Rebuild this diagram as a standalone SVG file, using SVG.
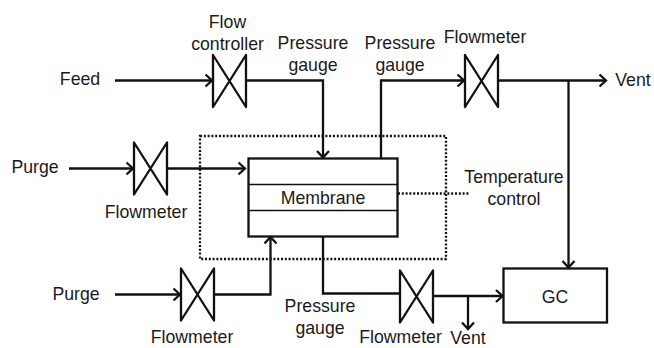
<svg xmlns="http://www.w3.org/2000/svg" width="654" height="348" viewBox="0 0 654 348">
<style>
text{font-family:"Liberation Sans",Arial,sans-serif;font-size:17.7px;fill:#1a1a1a;text-anchor:middle}
.c{fill:none;stroke:#111;stroke-width:2.3;stroke-linejoin:miter}
.v{fill:none;stroke:#111;stroke-width:2.3;stroke-linejoin:round}
.d{fill:none;stroke:#111;stroke-width:2.3;stroke-dasharray:2 1.8}
.t{fill:none;stroke:#111;stroke-width:1.4}
</style>
<defs>
<marker id="a" markerUnits="userSpaceOnUse" markerWidth="14" markerHeight="16" refX="10.5" refY="8" orient="auto" overflow="visible">
<path d="M4,2 L10.5,8 L4,14" fill="none" stroke="#111" stroke-width="2.3"/>
</marker>
<path id="valve" class="v" d="M0,0 L33,52 L33,0 L0,52 Z"/>
</defs>
<rect x="200" y="136" width="246" height="123" class="d"/>
<g id="connectors">
<path class="c" marker-end="url(#a)" d="M115,80.5 H212"/>
<path class="c" marker-end="url(#a)" d="M246,80.5 H323 V157.500"/>
<path class="c" marker-end="url(#a)" d="M381,158 V80.500 H464"/>
<path class="c" marker-end="url(#a)" d="M498,80.500 H606"/>
<path class="c" marker-end="url(#a)" d="M568.500,80.500 V267.500"/>
<path class="c" marker-end="url(#a)" d="M69,168.500 H133"/>
<path class="c" marker-end="url(#a)" d="M167,168.500 H245"/>
<path class="c" marker-end="url(#a)" d="M115,294.500 H180"/>
<path class="c" marker-end="url(#a)" d="M214,294.500 H270.500 V237"/>
<path class="c" d="M323,236 V293.500 H400"/>
<path class="c" marker-end="url(#a)" d="M433,296 H502.500"/>
<path class="c" marker-end="url(#a)" d="M468,296 V329"/>
<path class="d" d="M398,193.500 H469"/>
</g>
<g id="membrane">
<rect class="c" x="248.500" y="158.500" width="149" height="78"/>
<path class="t" d="M248.500,184.500 H397.500 M248.500,210.500 H397.500"/>
<text x="323" y="203.500">Membrane</text>
</g>
<g id="gc">
<rect class="c" x="503.500" y="268.500" width="103.500" height="54"/>
<text x="555" y="302.500">GC</text>
</g>
<g id="valve-controller"><use href="#valve" x="213" y="55"/><text x="227.500" y="27.500">Flow</text><text x="227.500" y="50">controller</text></g>
<g id="valve-vent"><use href="#valve" x="465" y="55"/><text x="485" y="42.500">Flowmeter</text></g>
<g id="valve-purge1"><use href="#valve" x="134" y="142.500"/><text x="146" y="217.500">Flowmeter</text></g>
<g id="valve-purge2"><use href="#valve" x="181" y="268.500"/><text x="192" y="343">Flowmeter</text></g>
<g id="valve-retentate"><use href="#valve" x="400" y="270.500"/><text x="400.500" y="343">Flowmeter</text></g>
<g id="labels">
<text x="80" y="84.500">Feed</text>
<text x="35" y="173">Purge</text>
<text x="76" y="299.500">Purge</text>
<text x="313" y="49">Pressure</text><text x="313" y="71">gauge</text>
<text x="400" y="49">Pressure</text><text x="400" y="71">gauge</text>
<text x="320" y="312">Pressure</text><text x="320" y="334">gauge</text>
<text x="633" y="85.500">Vent</text>
<text x="468" y="344">Vent</text>
<text x="514" y="182.500">Temperature</text><text x="514" y="204.500">control</text>
</g>
</svg>
